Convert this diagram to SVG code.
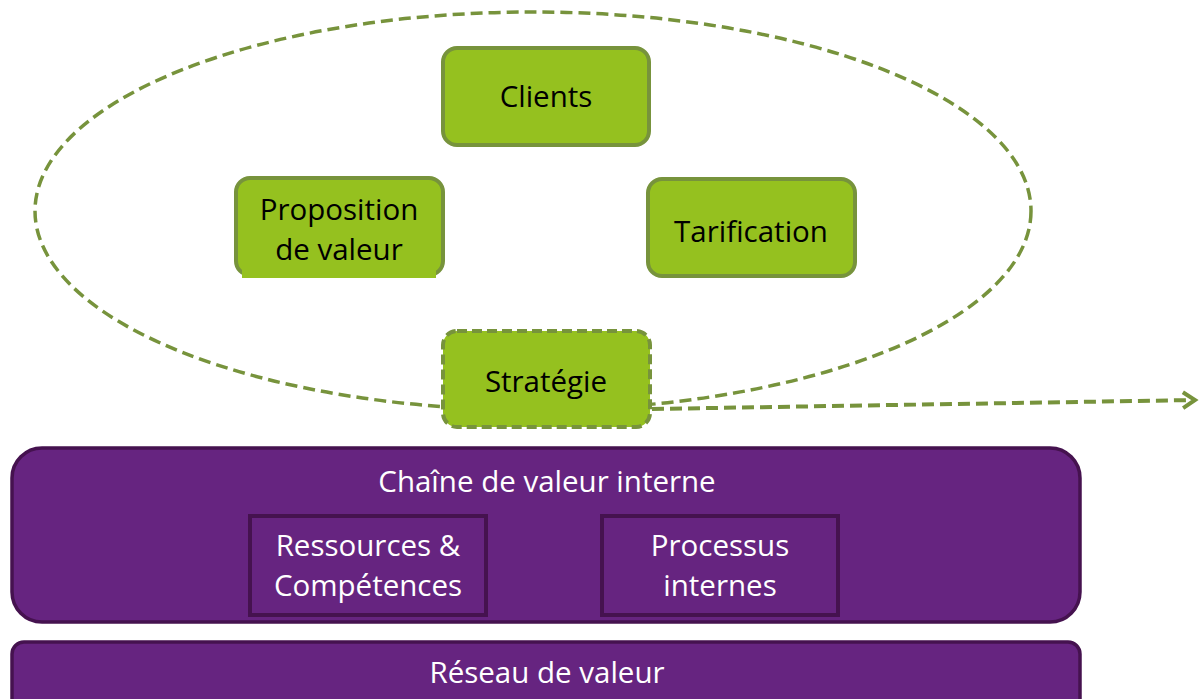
<svg xmlns="http://www.w3.org/2000/svg" width="1200" height="699" viewBox="0 0 1200 699">
<style>
.g{fill:#95C11F;stroke:#77933C;stroke-width:4}
.gt{font-family:"Open Sans","Liberation Sans",sans-serif;font-size:29.5px;fill:#000;text-anchor:middle}
.pt{font-family:"Open Sans","Liberation Sans",sans-serif;font-size:29.5px;fill:#fff;text-anchor:middle}
.p{fill:#662480;stroke:#45124F;stroke-width:3.5}
.pi{fill:#662480;stroke:#45124F;stroke-width:4}
</style>
<defs>
<marker id="ah" markerWidth="20" markerHeight="20" refX="16" refY="10" orient="auto" markerUnits="userSpaceOnUse">
<path d="M4,2 L16,10 L4,18" fill="none" stroke="#77933C" stroke-width="4"/>
</marker>
</defs>
<g id="ellipse">
<ellipse cx="533" cy="211" rx="498" ry="199" fill="none" stroke="#77933C" stroke-width="3.5" stroke-dasharray="12 6"/>
</g>
<g id="clients">
<rect class="g" x="443" y="48" width="206" height="97" rx="14"/>
<text class="gt" x="546" y="107">Clients</text>
</g>
<g id="proposition">
<rect class="g" x="236" y="178" width="207" height="97" rx="14"/>
<rect x="242" y="268" width="194" height="10" fill="#95C11F"/>
<text class="gt" x="339" y="220">Proposition</text>
<text class="gt" x="339" y="260">de valeur</text>
</g>
<g id="tarification">
<rect class="g" x="648" y="179" width="207" height="97" rx="14"/>
<text class="gt" x="751" y="242">Tarification</text>
</g>
<g id="strategie">
<rect class="g" x="443" y="331" width="207" height="96" rx="14" stroke-dasharray="10 5"/>
<text class="gt" x="546" y="392">Stratégie</text>
</g>
<g id="connectors">
<line x1="652" y1="409" x2="1195" y2="400" stroke="#77933C" stroke-width="4" stroke-dasharray="12 6" marker-end="url(#ah)"/>
</g>
<g id="chaine">
<rect class="p" x="12" y="448" width="1068" height="174" rx="30"/>
<text class="pt" x="547" y="492">Chaîne de valeur interne</text>
</g>
<g id="ressources">
<rect class="pi" x="250" y="516" width="236" height="99"/>
<text class="pt" x="368" y="556">Ressources &amp;</text>
<text class="pt" x="368" y="596">Compétences</text>
</g>
<g id="processus">
<rect class="pi" x="602" y="516" width="236" height="99"/>
<text class="pt" x="720" y="556">Processus</text>
<text class="pt" x="720" y="596">internes</text>
</g>
<g id="reseau">
<rect class="p" x="12" y="642" width="1068" height="80" rx="12"/>
<text class="pt" x="547" y="683">Réseau de valeur</text>
</g>
</svg>
